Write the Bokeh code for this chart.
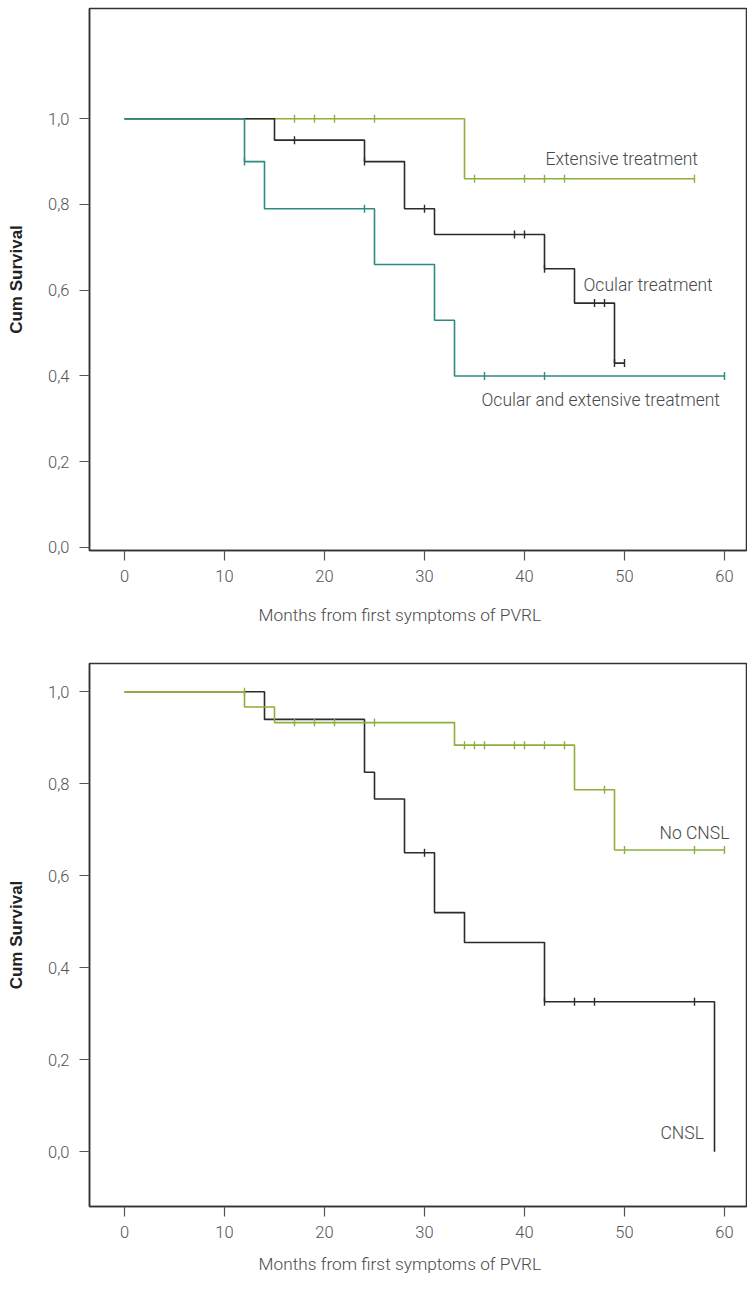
from bokeh.plotting import figure
from bokeh.layouts import column
from bokeh.models import Range1d, FixedTicker, CustomJSTickFormatter, ColumnDataSource, Title
from bokeh.core.properties import value
from bokeh.embed import file_html
from bokeh.resources import INLINE
import numpy as np

# ---------------- data: top chart ----------------
ext_times = [0, 34, 57]
ext_surv = [1.0, 0.86, 0.86]
ext_cens_t = [17, 19, 21, 25, 35, 40, 42, 44, 57]
ext_cens_s = [1.0, 1.0, 1.0, 1.0, 0.86, 0.86, 0.86, 0.86, 0.86]

ocu_times = [0, 15, 24, 28, 31, 42, 45, 49, 50]
ocu_surv = [1.0, 0.95, 0.90, 0.79, 0.73, 0.65, 0.57, 0.43, 0.43]
ocu_cens_t = [17, 24, 30, 39, 40, 42, 47, 48, 49, 50]
ocu_cens_s = [0.95, 0.90, 0.79, 0.73, 0.73, 0.65, 0.57, 0.57, 0.43, 0.43]

both_times = [0, 12, 14, 25, 31, 33, 60]
both_surv = [1.0, 0.90, 0.79, 0.66, 0.53, 0.40, 0.40]
both_cens_t = [12, 24, 36, 42, 60]
both_cens_s = [0.90, 0.79, 0.40, 0.40, 0.40]

top_labels = ["Extensive treatment", "Ocular treatment", "Ocular and extensive treatment"]
top_label_x = [42.1, 45.9, 35.7]
top_label_y = [0.905, 0.612, 0.343]

# ---------------- data: bottom chart ----------------
nocns_times = [0, 12, 15, 33, 45, 49, 60]
nocns_surv = [1.0, 0.967, 0.933, 0.884, 0.787, 0.656, 0.656]
nocns_cens_t = [12, 17, 19, 21, 25, 34, 35, 36, 39, 40, 42, 44, 48, 50, 57, 60]
nocns_cens_s = [1.0, 0.933, 0.933, 0.933, 0.933, 0.884, 0.884, 0.884, 0.884, 0.884,
                0.884, 0.884, 0.787, 0.656, 0.656, 0.656]

cns_times = [0, 14, 24, 25, 28, 31, 34, 42, 59]
cns_surv = [1.0, 0.94, 0.825, 0.767, 0.65, 0.52, 0.455, 0.326, 0.0]
cns_cens_t = [30, 42, 45, 47, 57]
cns_cens_s = [0.65, 0.326, 0.326, 0.326, 0.326]

bot_labels = ["No CNSL", "CNSL"]
bot_label_x = [53.5, 53.6]
bot_label_y = [0.692, 0.04]

x_ticks = [0, 10, 20, 30, 40, 50, 60]
y_ticks = [0.0, 0.2, 0.4, 0.6, 0.8, 1.0]
x_title = "Months from first symptoms of PVRL"
y_title = "Cum Survival"

GREEN = "#8fae3c"
TEAL = "#2e8b80"
BLACK = "#2b2b2b"
TXT = "#4a4a4a"
FONT = "Roboto Light"


def make_fig(height, y0, y1, mbt, mbb, title_standoff):
    p = figure(width=747, height=height, output_backend="svg", toolbar_location=None,
               x_range=Range1d(-3.5, 62.2), y_range=Range1d(y0, y1),
               min_border_left=89, min_border_right=1, min_border_top=mbt,
               min_border_bottom=mbb)
    p.xgrid.visible = False
    p.ygrid.visible = False
    p.outline_line_color = "#333333"
    p.outline_line_width = 1.5
    p.background_fill_color = "white"
    p.border_fill_color = "white"
    for ax in (p.xaxis[0], p.yaxis[0]):
        ax.axis_line_color = "#333333"
        ax.axis_line_width = 1.5
        ax.major_tick_line_color = "#555555"
        ax.major_tick_line_width = 1.2
        ax.major_tick_out = 10
        ax.major_tick_in = 0
        ax.minor_tick_out = 0
        ax.minor_tick_in = 0
        ax.major_label_text_font = FONT
        ax.major_label_text_font_size = "16.5px"
        ax.major_label_text_color = "#555555"
    p.xaxis.ticker = FixedTicker(ticks=x_ticks)
    p.yaxis.ticker = FixedTicker(ticks=y_ticks)
    p.yaxis.formatter = CustomJSTickFormatter(code="return tick.toFixed(1).replace('.', ',');")
    p.xaxis.major_label_standoff = 9
    p.yaxis.major_label_standoff = 10
    xt = Title(text=x_title, align="left", offset=169, standoff=title_standoff,
               vertical_align="top",
               text_font=FONT, text_font_style="normal", text_font_size="17.3px",
               text_color=TXT)
    p.add_layout(xt, "below")
    p.yaxis.axis_label = y_title
    p.yaxis.axis_label_text_font = "Liberation Sans"
    p.yaxis.axis_label_text_font_style = "bold"
    p.yaxis.axis_label_text_font_size = "17px"
    p.yaxis.axis_label_text_color = "#222222"
    p.yaxis.axis_label_standoff = 19
    return p


def km(p, times, surv, ct, cs, color):
    p.step(times, surv, mode="after", line_color=color, line_width=1.6)
    p.scatter(ct, cs, marker="dash", angle=np.pi / 2, size=8, line_color=color,
              line_width=1.4)


def labels(p, names, xs, ys):
    src = ColumnDataSource(dict(x=xs, y=ys, t=names))
    p.text(x="x", y="y", text="t", source=src, text_font=value(FONT),
           text_font_size="17.5px", text_color=TXT, text_align="left",
           text_baseline="middle")


p1 = make_fig(650, -0.007, 1.257, 8, 100, 40)
km(p1, ext_times, ext_surv, ext_cens_t, ext_cens_s, GREEN)
km(p1, ocu_times, ocu_surv, ocu_cens_t, ocu_cens_s, BLACK)
km(p1, both_times, both_surv, both_cens_t, both_cens_s, TEAL)
labels(p1, top_labels, top_label_x, top_label_y)

p2 = make_fig(639, -0.119, 1.0615, 13, 83, 27)
km(p2, cns_times, cns_surv, cns_cens_t, cns_cens_s, BLACK)
km(p2, nocns_times, nocns_surv, nocns_cens_t, nocns_cens_s, GREEN)
labels(p2, bot_labels, bot_label_x, bot_label_y)

layout = column(p1, p2, spacing=0)
open("out.html", "w").write(file_html(layout, INLINE))
